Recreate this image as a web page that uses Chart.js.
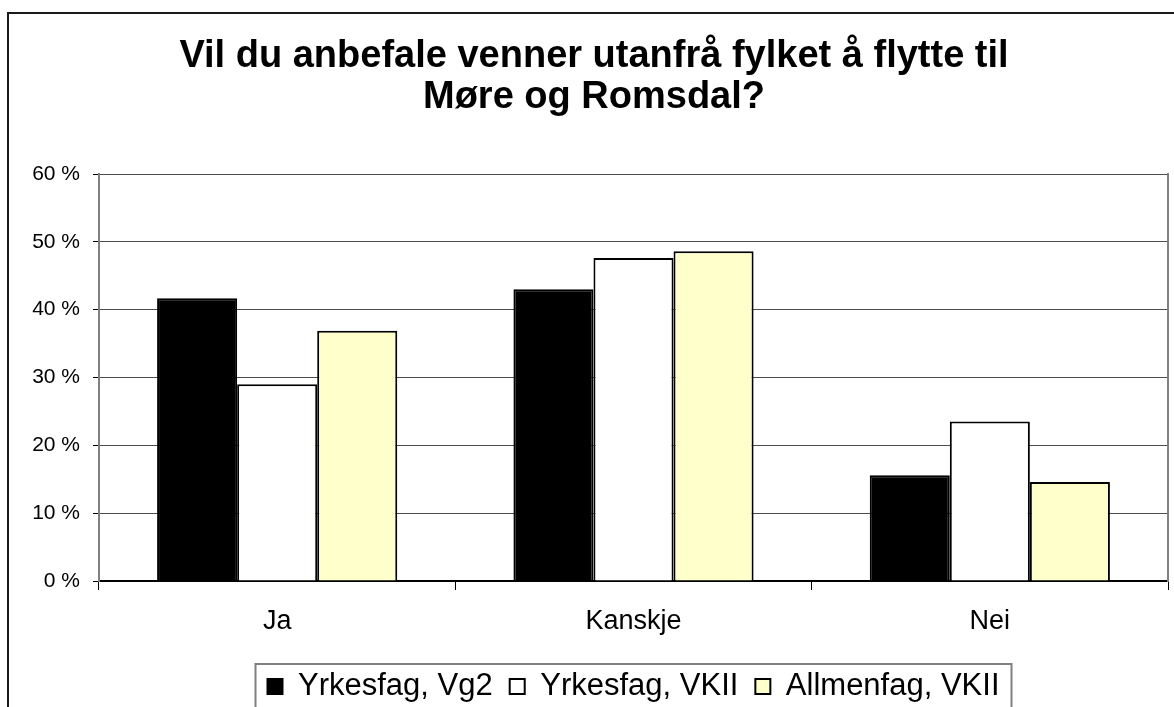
<!DOCTYPE html>
<html lang="no">
<head>
<meta charset="UTF-8">
<title>Vil du anbefale venner utanfrå fylket å flytte til Møre og Romsdal?</title>
<script src="https://cdn.jsdelivr.net/npm/chart.js"></script>
<style>
  html, body { margin: 0; padding: 0; background: #fff; overflow: hidden; }
  #chart { display: block; }
</style>
</head>
<body>
<canvas id="chart" width="1188" height="720"></canvas>
<script>
const categories = ['Ja', 'Kanskje', 'Nei'];
const seriesNames = ['Yrkesfag, Vg2', 'Yrkesfag, VKII', 'Allmenfag, VKII'];
const yrkesfagVg2 = [41.7, 43.0, 15.6];
const yrkesfagVKII = [29.0, 47.6, 23.5];
const allmenfagVKII = [36.9, 48.6, 14.6];
const yTicks = [0, 10, 20, 30, 40, 50, 60];
const titleLines = ['Vil du anbefale venner utanfrå fylket å flytte til', 'Møre og Romsdal?'];

const FONT = "'Liberation Sans', Arial, sans-serif";

// outer chart frame + box round the legend
const framePlugin = {
  id: 'frame',
  beforeDraw(chart) {
    const ctx = chart.ctx;
    ctx.save();
    ctx.fillStyle = '#fff';
    ctx.fillRect(0, 0, chart.width, chart.height);
    ctx.strokeStyle = '#1a1a1a';
    ctx.lineWidth = 2;
    ctx.strokeRect(8, 13, chart.width, chart.height);
    ctx.restore();
  },
  afterDraw(chart) {
    const ctx = chart.ctx;
    const lg = chart.legend;
    const boxes = lg.legendHitBoxes;
    const left = Math.min(...boxes.map(b => b.left)) - 12;
    const right = Math.max(...boxes.map(b => b.left + b.width)) + 12;
    ctx.save();
    ctx.strokeStyle = '#808080';
    ctx.lineWidth = 2;
    ctx.strokeRect(Math.round(left) + 0.5, Math.round(lg.top) + 10, Math.round(right - left), chart.height);
    ctx.restore();
  }
};

new Chart(document.getElementById('chart'), {
  type: 'bar',
  data: {
    labels: categories,
    datasets: [
      { label: seriesNames[0], data: yrkesfagVg2, backgroundColor: '#000000', borderColor: '#000000', borderWidth: 2 },
      { label: seriesNames[1], data: yrkesfagVKII, backgroundColor: '#ffffff', borderColor: '#000000', borderWidth: 2 },
      { label: seriesNames[2], data: allmenfagVKII, backgroundColor: '#ffffcc', borderColor: '#000000', borderWidth: 2 }
    ]
  },
  options: {
    responsive: false,
    animation: false,
    devicePixelRatio: 1,
    categoryPercentage: 0.674,
    barPercentage: 1.0,
    layout: { padding: { left: 8, right: 8, top: 13, bottom: 8 } },
    plugins: {
      title: {
        display: true,
        text: titleLines,
        color: '#000',
        font: { family: FONT, size: 38, weight: 'bold', lineHeight: 41 / 38 },
        padding: { top: 23, bottom: 56 }
      },
      legend: {
        position: 'bottom',
        fullSize: false,
        labels: {
          color: '#000',
          font: { family: FONT, size: 31 },
          boxWidth: 15,
          boxHeight: 15,
          padding: 17
        }
      },
      tooltip: { enabled: false }
    },
    scales: {
      x: {
        grid: { offset: true, drawOnChartArea: false, drawTicks: true, tickLength: 9, color: '#000' },
        border: { display: true, color: '#000', width: 2 },
        ticks: { color: '#000', font: { family: FONT, size: 27 }, padding: 15 },
        afterFit(scale) { scale.height = 73; }
      },
      y: {
        min: 0,
        max: 60,
        afterBuildTicks(scale) { scale.ticks = yTicks.map(v => ({ value: v })); },
        grid: { color: '#4d4d4d', lineWidth: 1, tickLength: 6, tickColor: '#000' },
        border: { display: true, color: '#808080', width: 2 },
        ticks: { color: '#000', font: { family: FONT, size: 21 }, padding: 13, callback: v => v + ' %' },
        afterFit(scale) { scale.width = 91; }
      },
      yRight: {
        position: 'right',
        display: true,
        grid: { display: false },
        border: { display: true, color: '#808080', width: 2 },
        ticks: { display: false },
        afterFit(scale) { scale.width = 12; }
      }
    }
  },
  plugins: [framePlugin]
});
</script>
</body>
</html>
